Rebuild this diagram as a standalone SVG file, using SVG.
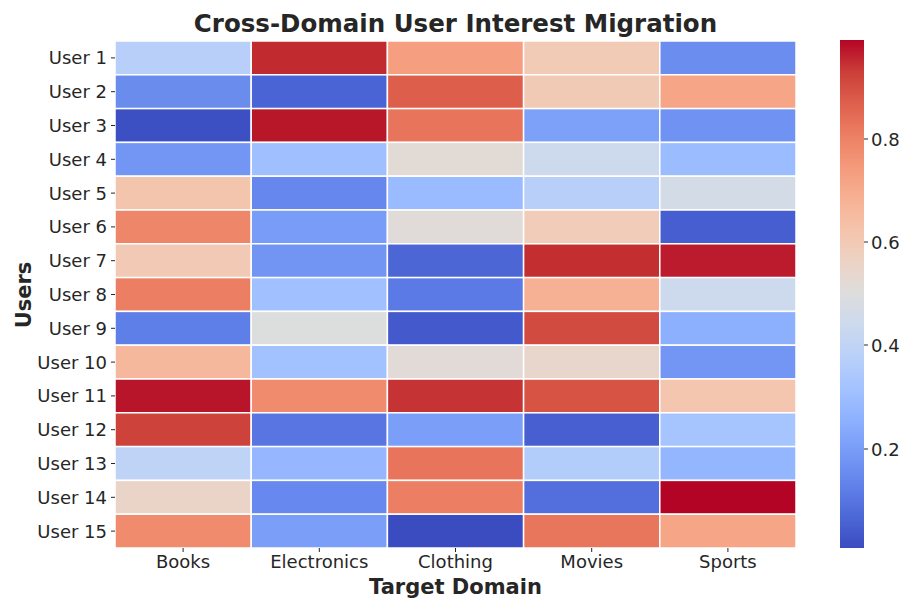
<svg xmlns="http://www.w3.org/2000/svg" width="901" height="599" viewBox="0 0 901 599">
<style>
text{font-family:"DejaVu Sans","Liberation Sans",sans-serif;fill:#262626}
.tk{font-size:18px}
.yl{text-anchor:end}
.xl{text-anchor:middle}
.ttl{font-size:24.5px;font-weight:bold;text-anchor:middle}
.ax{font-size:21px;font-weight:bold;text-anchor:middle}
.c{stroke:#fff;stroke-width:1.5}
.tm{stroke:#262626;stroke-width:1}
</style>
<defs>
<linearGradient id="cw" x1="0" y1="1" x2="0" y2="0">
<stop offset="0" stop-color="#3b4cc0"/>
<stop offset="0.0625" stop-color="#4d68d7"/>
<stop offset="0.125" stop-color="#6282ea"/>
<stop offset="0.1875" stop-color="#779af7"/>
<stop offset="0.25" stop-color="#8db0fe"/>
<stop offset="0.3125" stop-color="#a3c2ff"/>
<stop offset="0.375" stop-color="#b8d0f9"/>
<stop offset="0.4375" stop-color="#ccd9ee"/>
<stop offset="0.5" stop-color="#dddddd"/>
<stop offset="0.5625" stop-color="#ecd3c5"/>
<stop offset="0.625" stop-color="#f5c4ac"/>
<stop offset="0.6875" stop-color="#f7b194"/>
<stop offset="0.75" stop-color="#f49a7b"/>
<stop offset="0.8125" stop-color="#ec7f63"/>
<stop offset="0.875" stop-color="#de604d"/>
<stop offset="0.9375" stop-color="#cb3e38"/>
<stop offset="1" stop-color="#b40426"/>
</linearGradient>
</defs>
<rect width="901" height="599" fill="#fff"/>
<text class="ttl" x="455.5" y="32">Cross-Domain User Interest Migration</text>
<g id="heatmap">
<g id="row1"><rect class="c" x="115" y="41" width="136.2" height="33.8" fill="#b8d0f9"/><rect class="c" x="251.2" y="41" width="136.2" height="33.8" fill="#c12b30"/><rect class="c" x="387.4" y="41" width="136.2" height="33.8" fill="#f59f80"/><rect class="c" x="523.6" y="41" width="136.2" height="33.8" fill="#f2cbb7"/><rect class="c" x="659.8" y="41" width="136.2" height="33.8" fill="#6b8df0"/></g>
<g id="row2"><rect class="c" x="115" y="74.8" width="136.2" height="33.8" fill="#6a8ded"/><rect class="c" x="251.2" y="74.8" width="136.2" height="33.8" fill="#4a64d5"/><rect class="c" x="387.4" y="74.8" width="136.2" height="33.8" fill="#dd5f4b"/><rect class="c" x="523.6" y="74.8" width="136.2" height="33.8" fill="#f1cab6"/><rect class="c" x="659.8" y="74.8" width="136.2" height="33.8" fill="#f6a586"/></g>
<g id="row3"><rect class="c" x="115" y="108.6" width="136.2" height="33.8" fill="#3d50c3"/><rect class="c" x="251.2" y="108.6" width="136.2" height="33.8" fill="#b81629"/><rect class="c" x="387.4" y="108.6" width="136.2" height="33.8" fill="#e7745b"/><rect class="c" x="523.6" y="108.6" width="136.2" height="33.8" fill="#7da0f9"/><rect class="c" x="659.8" y="108.6" width="136.2" height="33.8" fill="#7093f3"/></g>
<g id="row4"><rect class="c" x="115" y="142.4" width="136.2" height="33.8" fill="#7396f5"/><rect class="c" x="251.2" y="142.4" width="136.2" height="33.8" fill="#9fbfff"/><rect class="c" x="387.4" y="142.4" width="136.2" height="33.8" fill="#e2dad5"/><rect class="c" x="523.6" y="142.4" width="136.2" height="33.8" fill="#cdd9ec"/><rect class="c" x="659.8" y="142.4" width="136.2" height="33.8" fill="#9bbcff"/></g>
<g id="row5"><rect class="c" x="115" y="176.2" width="136.2" height="33.8" fill="#f4c5ad"/><rect class="c" x="251.2" y="176.2" width="136.2" height="33.8" fill="#6687ed"/><rect class="c" x="387.4" y="176.2" width="136.2" height="33.8" fill="#9abbff"/><rect class="c" x="523.6" y="176.2" width="136.2" height="33.8" fill="#b7cff9"/><rect class="c" x="659.8" y="176.2" width="136.2" height="33.8" fill="#d3dbe7"/></g>
<g id="row6"><rect class="c" x="115" y="210" width="136.2" height="33.8" fill="#ee8669"/><rect class="c" x="251.2" y="210" width="136.2" height="33.8" fill="#799cf8"/><rect class="c" x="387.4" y="210" width="136.2" height="33.8" fill="#e0dbd8"/><rect class="c" x="523.6" y="210" width="136.2" height="33.8" fill="#f1ccb8"/><rect class="c" x="659.8" y="210" width="136.2" height="33.8" fill="#465ecf"/></g>
<g id="row7"><rect class="c" x="115" y="243.8" width="136.2" height="33.8" fill="#f2c9b4"/><rect class="c" x="251.2" y="243.8" width="136.2" height="33.8" fill="#7295f4"/><rect class="c" x="387.4" y="243.8" width="136.2" height="33.8" fill="#4c66d6"/><rect class="c" x="523.6" y="243.8" width="136.2" height="33.8" fill="#c32e31"/><rect class="c" x="659.8" y="243.8" width="136.2" height="33.8" fill="#bb1b2c"/></g>
<g id="row8"><rect class="c" x="115" y="277.6" width="136.2" height="33.8" fill="#ec7f63"/><rect class="c" x="251.2" y="277.6" width="136.2" height="33.8" fill="#a1c0ff"/><rect class="c" x="387.4" y="277.6" width="136.2" height="33.8" fill="#5b7ae5"/><rect class="c" x="523.6" y="277.6" width="136.2" height="33.8" fill="#f6b094"/><rect class="c" x="659.8" y="277.6" width="136.2" height="33.8" fill="#cdd9ec"/></g>
<g id="row9"><rect class="c" x="115" y="311.4" width="136.2" height="33.8" fill="#5f7fe8"/><rect class="c" x="251.2" y="311.4" width="136.2" height="33.8" fill="#dcdddd"/><rect class="c" x="387.4" y="311.4" width="136.2" height="33.8" fill="#445acc"/><rect class="c" x="523.6" y="311.4" width="136.2" height="33.8" fill="#d24b40"/><rect class="c" x="659.8" y="311.4" width="136.2" height="33.8" fill="#8db0fe"/></g>
<g id="row10"><rect class="c" x="115" y="345.2" width="136.2" height="33.8" fill="#f5b89c"/><rect class="c" x="251.2" y="345.2" width="136.2" height="33.8" fill="#a2c1ff"/><rect class="c" x="387.4" y="345.2" width="136.2" height="33.8" fill="#e1dad6"/><rect class="c" x="523.6" y="345.2" width="136.2" height="33.8" fill="#e8d6cc"/><rect class="c" x="659.8" y="345.2" width="136.2" height="33.8" fill="#7396f5"/></g>
<g id="row11"><rect class="c" x="115" y="379" width="136.2" height="33.8" fill="#b8152a"/><rect class="c" x="251.2" y="379" width="136.2" height="33.8" fill="#f08b6e"/><rect class="c" x="387.4" y="379" width="136.2" height="33.8" fill="#c53334"/><rect class="c" x="523.6" y="379" width="136.2" height="33.8" fill="#d75445"/><rect class="c" x="659.8" y="379" width="136.2" height="33.8" fill="#f4c6af"/></g>
<g id="row12"><rect class="c" x="115" y="412.8" width="136.2" height="33.8" fill="#cd423b"/><rect class="c" x="251.2" y="412.8" width="136.2" height="33.8" fill="#5875e1"/><rect class="c" x="387.4" y="412.8" width="136.2" height="33.8" fill="#7b9ff9"/><rect class="c" x="523.6" y="412.8" width="136.2" height="33.8" fill="#485fd1"/><rect class="c" x="659.8" y="412.8" width="136.2" height="33.8" fill="#a6c4fe"/></g>
<g id="row13"><rect class="c" x="115" y="446.6" width="136.2" height="33.8" fill="#bfd3f6"/><rect class="c" x="251.2" y="446.6" width="136.2" height="33.8" fill="#96b7ff"/><rect class="c" x="387.4" y="446.6" width="136.2" height="33.8" fill="#e7745b"/><rect class="c" x="523.6" y="446.6" width="136.2" height="33.8" fill="#b3cdfb"/><rect class="c" x="659.8" y="446.6" width="136.2" height="33.8" fill="#94b6ff"/></g>
<g id="row14"><rect class="c" x="115" y="480.4" width="136.2" height="33.8" fill="#ead4c8"/><rect class="c" x="251.2" y="480.4" width="136.2" height="33.8" fill="#6788ee"/><rect class="c" x="387.4" y="480.4" width="136.2" height="33.8" fill="#ec7f63"/><rect class="c" x="523.6" y="480.4" width="136.2" height="33.8" fill="#536edd"/><rect class="c" x="659.8" y="480.4" width="136.2" height="33.8" fill="#b40426"/></g>
<g id="row15"><rect class="c" x="115" y="514.2" width="136.2" height="33.8" fill="#f08b6e"/><rect class="c" x="251.2" y="514.2" width="136.2" height="33.8" fill="#7b9ff9"/><rect class="c" x="387.4" y="514.2" width="136.2" height="33.8" fill="#3b4cc0"/><rect class="c" x="523.6" y="514.2" width="136.2" height="33.8" fill="#e8765c"/><rect class="c" x="659.8" y="514.2" width="136.2" height="33.8" fill="#f6a586"/></g>
</g>
<g id="yaxis">
<path class="tm" d="M111 57.9h4M111 91.7h4M111 125.5h4M111 159.3h4M111 193.1h4M111 226.9h4M111 260.7h4M111 294.5h4M111 328.3h4M111 362.1h4M111 395.9h4M111 429.7h4M111 463.5h4M111 497.3h4M111 531.1h4"/>
<text class="tk yl" x="107" y="64.4">User 1</text>
<text class="tk yl" x="107" y="98.2">User 2</text>
<text class="tk yl" x="107" y="132">User 3</text>
<text class="tk yl" x="107" y="165.8">User 4</text>
<text class="tk yl" x="107" y="199.6">User 5</text>
<text class="tk yl" x="107" y="233.4">User 6</text>
<text class="tk yl" x="107" y="267.2">User 7</text>
<text class="tk yl" x="107" y="301">User 8</text>
<text class="tk yl" x="107" y="334.8">User 9</text>
<text class="tk yl" x="107" y="368.6">User 10</text>
<text class="tk yl" x="107" y="402.4">User 11</text>
<text class="tk yl" x="107" y="436.2">User 12</text>
<text class="tk yl" x="107" y="470">User 13</text>
<text class="tk yl" x="107" y="503.8">User 14</text>
<text class="tk yl" x="107" y="537.6">User 15</text>
<text class="ax" transform="translate(31 295) rotate(-90)">Users</text>
</g>
<g id="xaxis">
<path class="tm" d="M183.1 548v4M319.3 548v4M455.5 548v4M591.7 548v4M727.9 548v4"/>
<text class="tk xl" x="183.1" y="568">Books</text>
<text class="tk xl" x="319.3" y="568">Electronics</text>
<text class="tk xl" x="455.5" y="568">Clothing</text>
<text class="tk xl" x="591.7" y="568">Movies</text>
<text class="tk xl" x="727.9" y="568">Sports</text>
<text class="ax" x="455.5" y="594">Target Domain</text>
</g>
<g id="colorbar">
<rect x="840" y="40" width="24" height="508" fill="url(#cw)"/>
<path class="tm" d="M864 139h4M864 242h4M864 345h4M864 449h4"/>
<text class="tk" x="871" y="145.5">0.8</text>
<text class="tk" x="871" y="248.5">0.6</text>
<text class="tk" x="871" y="351.5">0.4</text>
<text class="tk" x="871" y="455.5">0.2</text>
</g>
</svg>
